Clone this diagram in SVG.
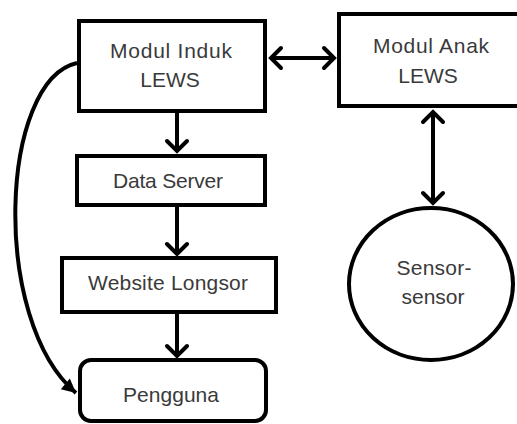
<svg xmlns="http://www.w3.org/2000/svg" width="517" height="424" viewBox="0 0 517 424">
  <style>
    .box { fill: #fff; stroke: #000; stroke-width: 4; }
    .lbl { font-family: "Liberation Sans", Arial, sans-serif; font-size: 21px; fill: #3a3a3a; text-anchor: middle; }
    .edge { fill: none; stroke: #000; stroke-width: 4; }
  </style>
  <defs>
    <marker id="open" markerUnits="userSpaceOnUse" markerWidth="30" markerHeight="30" viewBox="-15 -15 30 30" refX="0" refY="0" orient="auto-start-reverse">
      <path d="M -11 -10 L -1 0 L -11 10" fill="none" stroke="#000" stroke-width="4" stroke-linecap="round" stroke-linejoin="miter"/>
    </marker>
    <marker id="solid" markerUnits="userSpaceOnUse" markerWidth="30" markerHeight="30" viewBox="-15 -15 30 30" refX="0" refY="0" orient="auto">
      <path d="M 0 0 L -14 -7 L -14 7 Z" fill="#000"/>
    </marker>
  </defs>
  <rect width="517" height="424" fill="#fff"/>

  <g id="connectors">
    <line class="edge" x1="270" y1="58" x2="335" y2="58" marker-start="url(#open)" marker-end="url(#open)"/>
    <line class="edge" x1="433" y1="111" x2="433" y2="204" marker-start="url(#open)" marker-end="url(#open)"/>
    <line class="edge" x1="177" y1="112" x2="177" y2="152" marker-end="url(#open)"/>
    <line class="edge" x1="177" y1="206" x2="177" y2="255" marker-end="url(#open)"/>
    <line class="edge" x1="177" y1="313" x2="177" y2="357" marker-end="url(#open)"/>
    <path class="edge" stroke-width="3.5" d="M 77 63 C 0 80, -10 320, 76 393" marker-end="url(#solid)"/>
  </g>

  <g id="modul-induk">
    <rect class="box" x="79" y="21" width="186" height="90"/>
    <text class="lbl" x="171" y="58" textLength="122" lengthAdjust="spacing">Modul Induk</text>
    <text class="lbl" x="170" y="87">LEWS</text>
  </g>

  <g id="modul-anak">
    <rect class="box" x="339" y="14" width="190" height="92"/>
    <text class="lbl" x="431" y="53" textLength="116" lengthAdjust="spacing">Modul Anak</text>
    <text class="lbl" x="428" y="83">LEWS</text>
  </g>

  <g id="data-server">
    <rect class="box" x="77" y="156" width="188" height="49"/>
    <text class="lbl" x="168" y="188" textLength="110" lengthAdjust="spacing">Data Server</text>
  </g>

  <g id="website-longsor">
    <rect class="box" x="62" y="258" width="214" height="54"/>
    <text class="lbl" x="168" y="290" textLength="160" lengthAdjust="spacing">Website Longsor</text>
  </g>

  <g id="pengguna">
    <rect class="box" x="80" y="360" width="186" height="61" rx="11" ry="11"/>
    <text class="lbl" x="171" y="402" textLength="96" lengthAdjust="spacing">Pengguna</text>
  </g>

  <g id="sensor">
    <ellipse class="box" stroke-width="3.5" cx="431" cy="284" rx="82" ry="76"/>
    <text class="lbl" x="434" y="275" textLength="75" lengthAdjust="spacing">Sensor-</text>
    <text class="lbl" x="433" y="304">sensor</text>
  </g>
</svg>
